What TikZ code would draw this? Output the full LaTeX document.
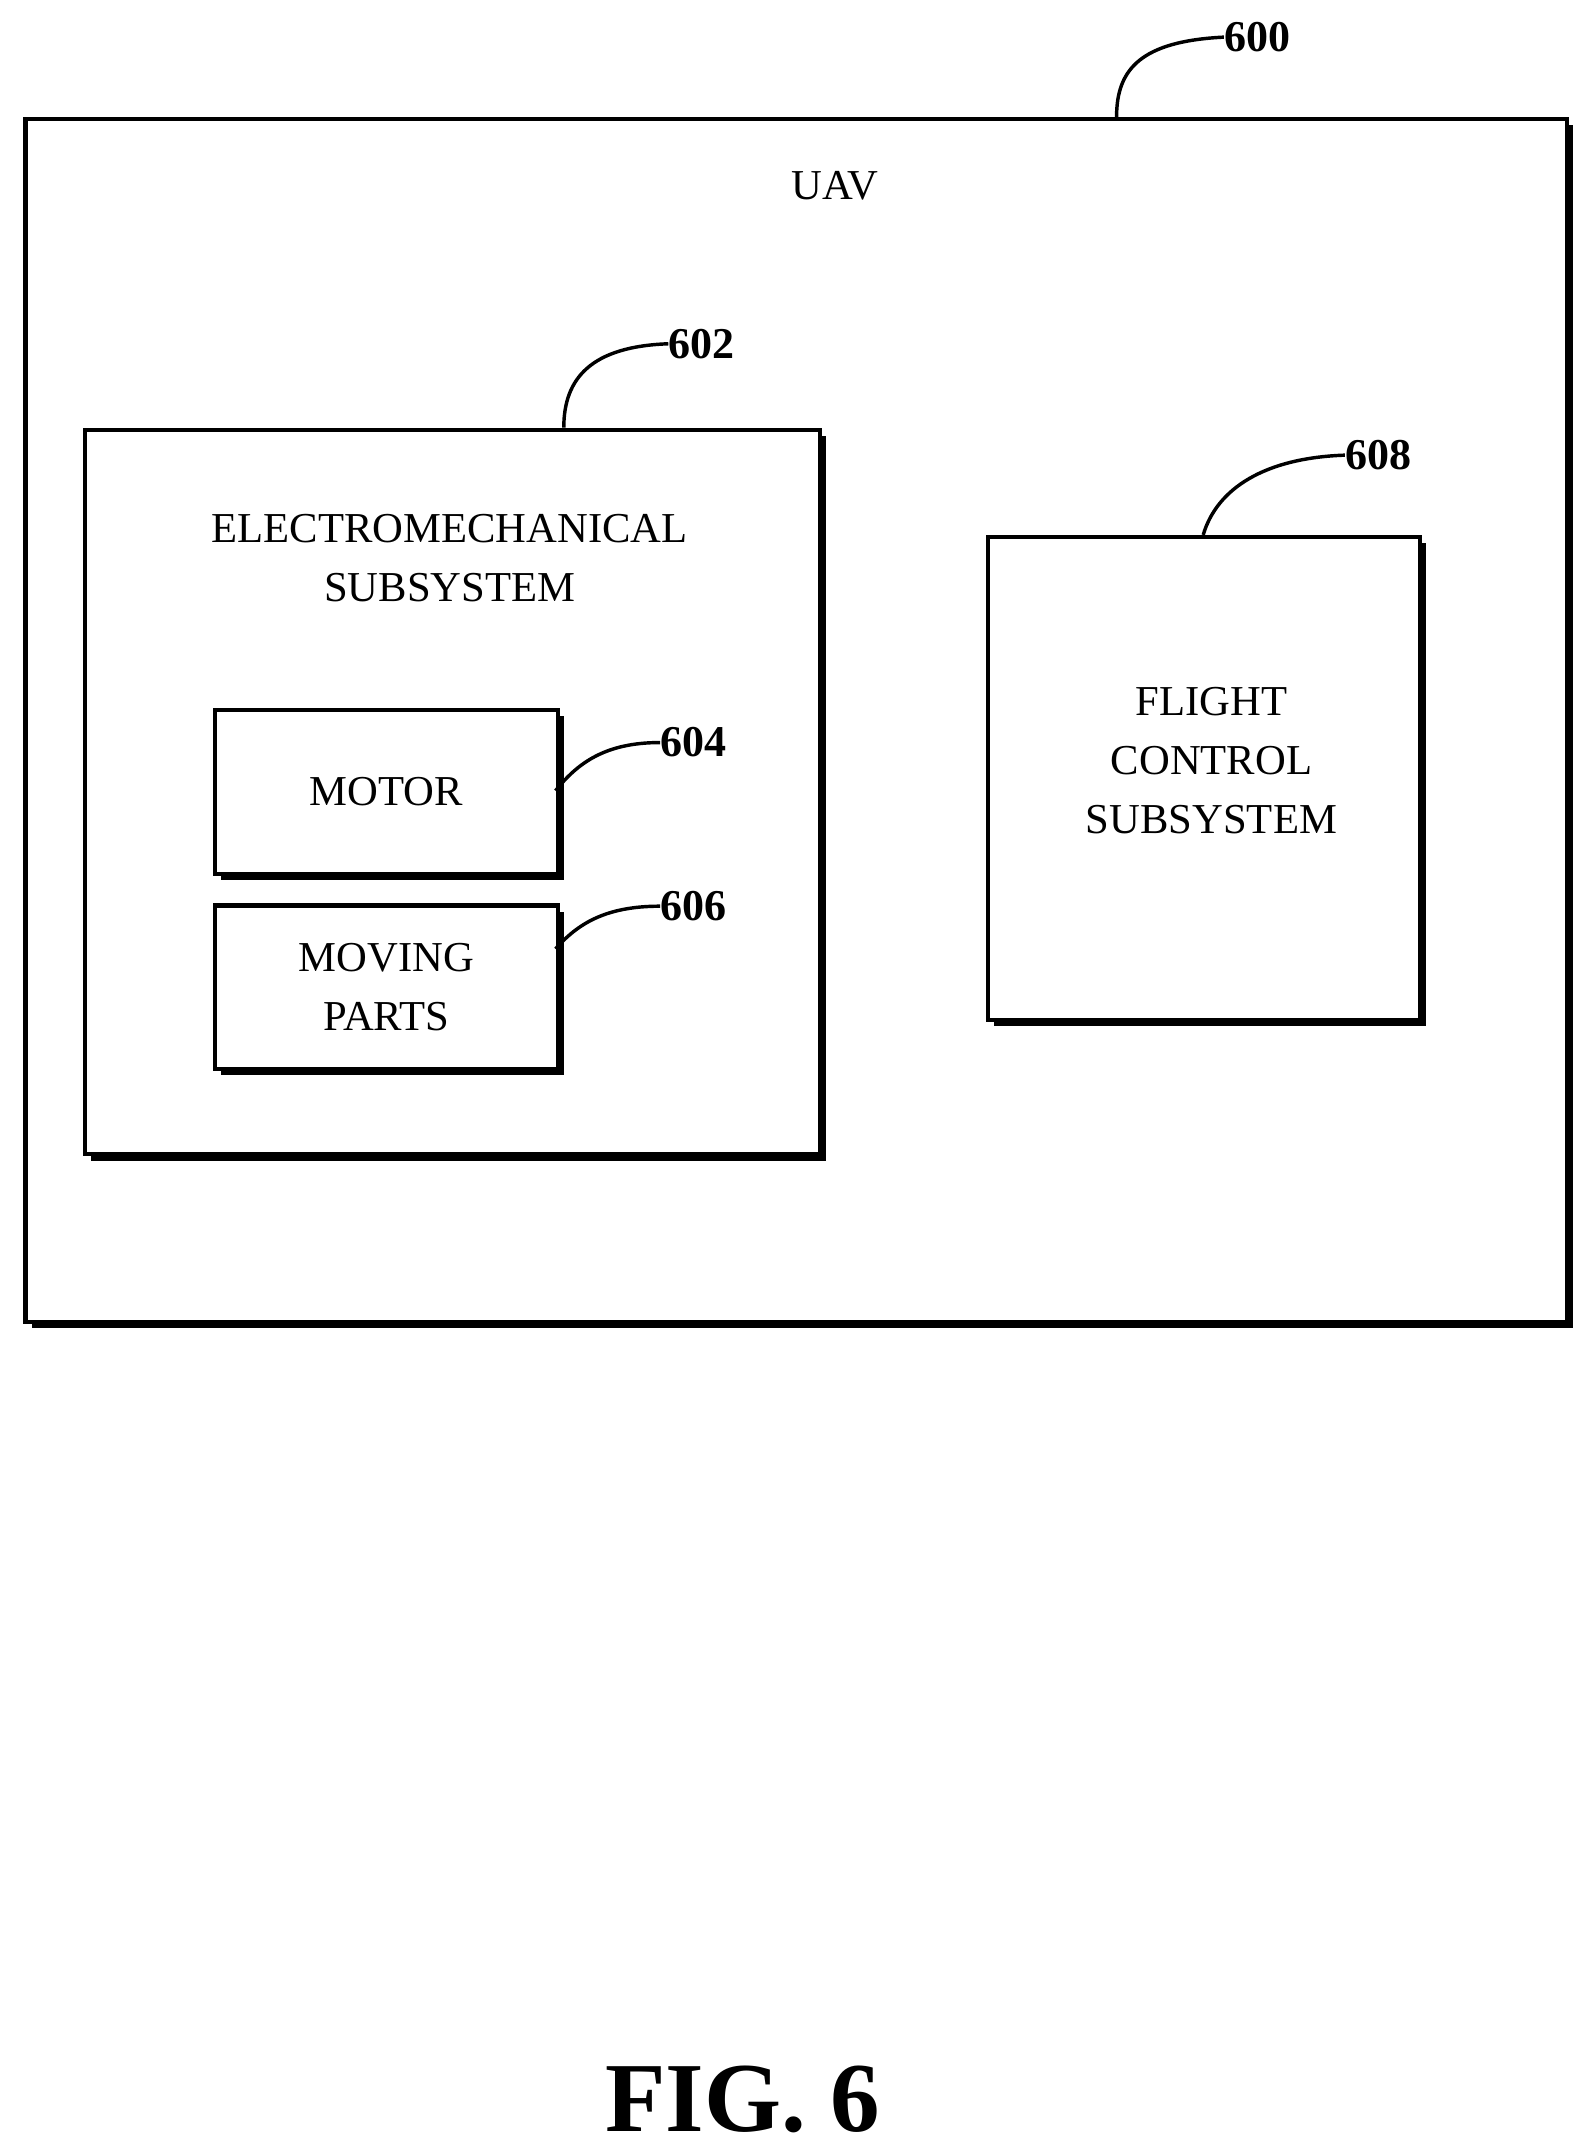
\documentclass[tikz,border=0pt]{standalone}
\usepackage{fontspec}
\setmainfont{Liberation Serif}
\begin{document}
\begin{tikzpicture}[x=1pt,y=-1pt,
 box/.style={draw,line width=3pt,fill=white},
 shad/.style={fill=black},
 lbl/.style={font=\fontsize{31}{43}\selectfont,align=center},
 num/.style={font=\bfseries\fontsize{32}{36}\selectfont,anchor=west,inner sep=0pt},
 lead/.style={line width=2.5pt}]
\useasboundingbox (0,0) rectangle (1158,1565);
% shadows
\fill[shad] (23,91) rectangle (1144,966);
\node[box,minimum width=1121pt,minimum height=875pt,anchor=north west,inner sep=0] (uav) at (17,85) {};
\node[lbl] (uavt) at (607,135) {UAV};
\fill[shad] (66,317) rectangle (601,844);
\node[box,minimum width=535pt,minimum height=527pt,anchor=north west,inner sep=0] (em) at (60,311) {};
\node[lbl] (emt) at (327,406) {ELECTROMECHANICAL\\SUBSYSTEM};
\fill[shad] (161,521) rectangle (410,640);
\node[box,minimum width=249pt,minimum height=119pt,anchor=north west,inner sep=0,lbl] (mot) at (155,515) {MOTOR};
\fill[shad] (161,663) rectangle (410,782);
\node[box,minimum width=249pt,minimum height=119pt,anchor=north west,inner sep=0,lbl] (mp) at (155,657) {MOVING\\PARTS};
\fill[shad] (723,395) rectangle (1037,746);
\node[box,minimum width=314pt,minimum height=351pt,anchor=north west,inner sep=0] (fc) at (717,389) {};
\node[lbl] (fct) at (881,553) {FLIGHT\\CONTROL\\SUBSYSTEM};
% labels
\node[num] (n600) at (890,27) {600};
\node[num] (n602) at (486,250) {602};
\node[num] (n604) at (480,540) {604};
\node[num] (n606) at (480,659) {606};
\node[num] (n608) at (978,331) {608};
\draw[lead] (812,85) .. controls (812,50) and (830,30) .. (n600.west);
\draw[lead] (410,311) .. controls (410,275) and (430,252) .. (n602.west);
\draw[lead] (404,575) .. controls (420,555) and (440,540) .. (n604.west);
\draw[lead] (404,690) .. controls (420,672) and (440,659) .. (n606.west);
\draw[lead] (875,389) .. controls (885,355) and (920,333) .. (n608.west);
\node[font=\bfseries\fontsize{72}{80}\selectfont] (fig) at (540,1527) {FIG. 6};
\end{tikzpicture}
\end{document}
